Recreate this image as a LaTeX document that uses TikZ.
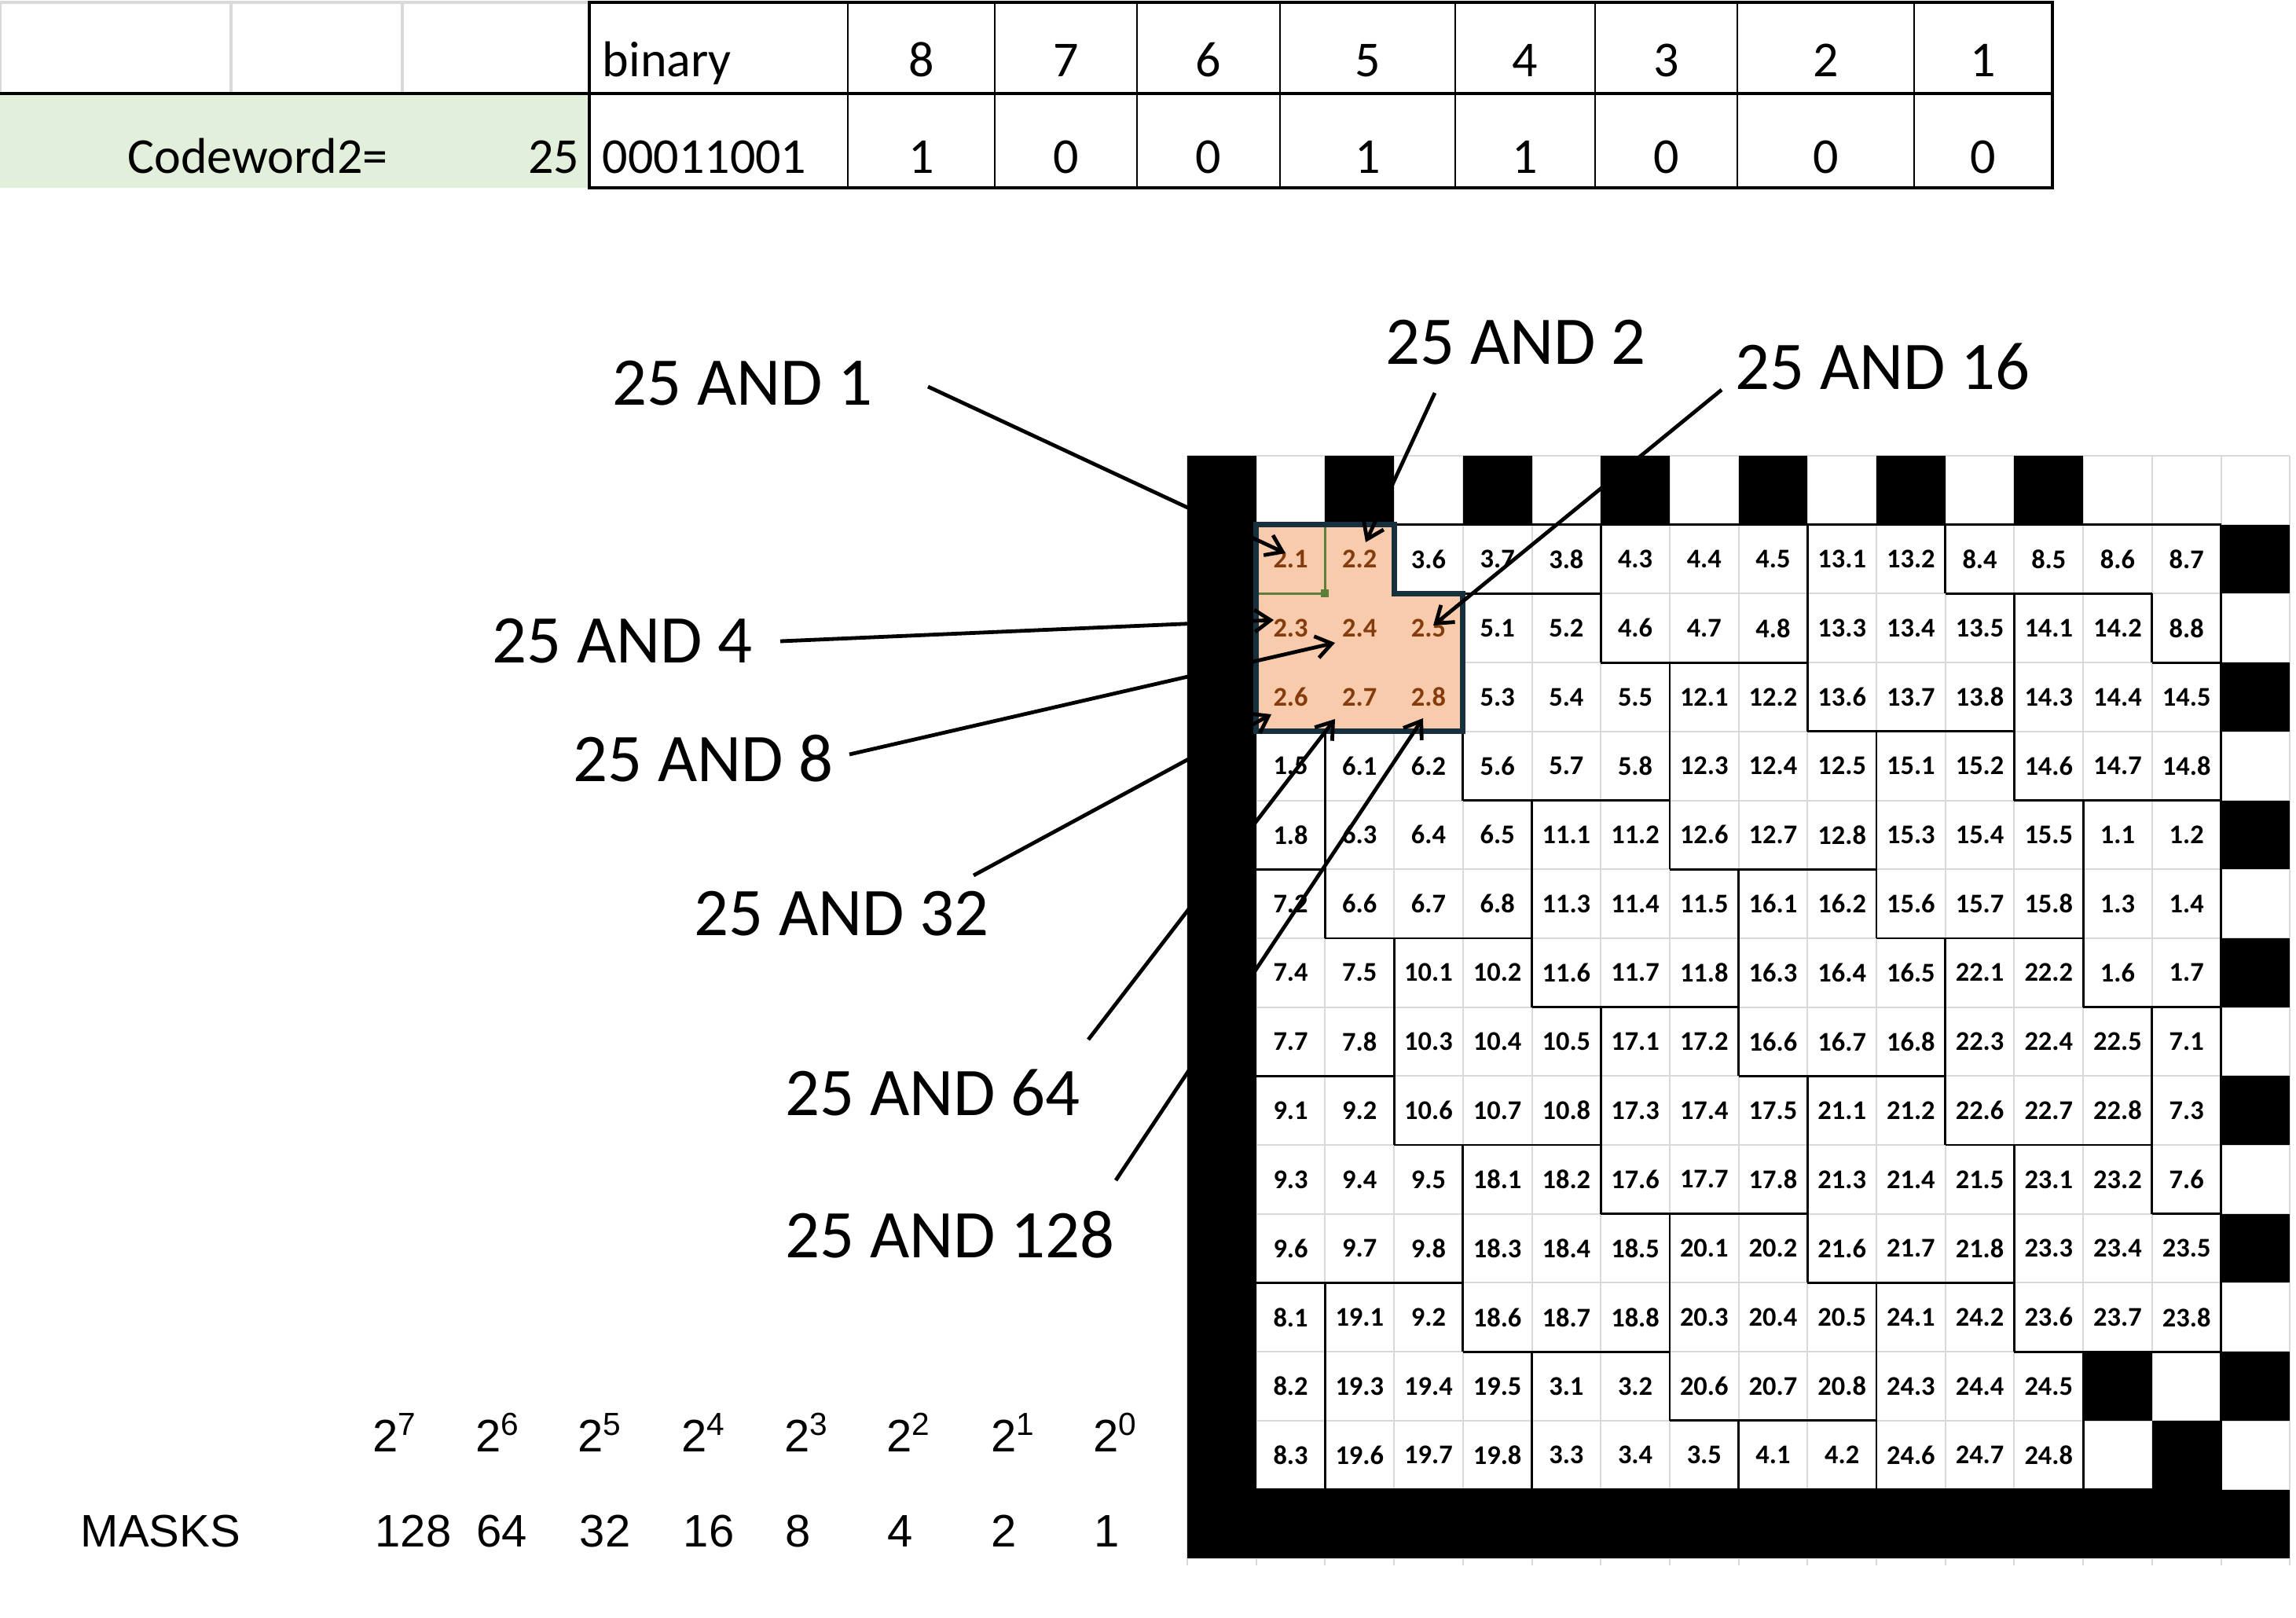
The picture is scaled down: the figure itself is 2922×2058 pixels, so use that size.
\documentclass[tikz,border=0pt]{standalone}
\usepackage{fontspec}
\setmainfont{Carlito}
\newfontfamily\arialf{Liberation Sans}
\usetikzlibrary{arrows.meta}
\definecolor{hl}{HTML}{F8CBAD}
\definecolor{hltxt}{HTML}{843C0C}
\definecolor{hlline}{HTML}{17303D}
\definecolor{grn}{HTML}{E2EFDA}
\definecolor{sel}{HTML}{5E7F3A}
\definecolor{gridg}{HTML}{D9D9D9}
\begin{document}
\begin{tikzpicture}[x=0.25pt,y=-0.25pt,
  lab/.style={anchor=west,inner sep=0,font=\fontsize{21.7}{24}\selectfont},
  arr/.style={line width=1.2pt,-{Straight Barb[length=5pt,width=7pt,line width=1.2pt]}},
  tb/.style={inner sep=0,font=\fontsize{16}{18}\selectfont},
  cell/.style={inner sep=0,font=\bfseries\fontsize{8.6}{10}\selectfont},
  msk/.style={inner sep=0,font=\arialf\fontsize{14.5}{16}\selectfont}]
\useasboundingbox (0,0) rectangle (2922,2058);
\fill[white] (0,0) rectangle (2922,2058);
\def\s{87.7}
\def\xo{1511}
\def\yo{580}
% ---------- top table ----------
\fill[grn] (0,119) rectangle (750,239);
\draw[gridg,line width=0.8pt] (0,3) -- (750,3) (294,3) -- (294,119) (512,3) -- (512,119) (0,3) -- (0,119);
\draw[line width=1pt] (0,119) -- (750,119);
\draw[line width=1pt] (750,3) rectangle (2612,239) (750,119) -- (2612,119);
\foreach \x in {1079,1266,1447,1629,1852,2030,2211,2436}{\draw[line width=0.6pt] (\x,3) -- (\x,239);}
\node[tb,anchor=base west] (bin) at (766,97) {binary};
\node[tb,anchor=base west] (bits) at (766,220) {00011001};
\node[tb,anchor=base] (cw) at (328,220) {Codeword2=};
\node[tb,anchor=base east] (n25) at (738,220) {25};
\foreach \a/\b/\h/\v [count=\i] in {1079/1266/8/1,1266/1447/7/0,1447/1629/6/0,1629/1852/5/1,1852/2030/4/1,2030/2211/3/0,2211/2436/2/0,2436/2612/1/0}{
  \node[tb,anchor=base] (h\i) at ({(\a+\b)/2},97) {\h};
  \node[tb,anchor=base] (v\i) at ({(\a+\b)/2},220) {\v};
}
% ---------- grid ----------
\foreach \c in {0,...,16}{\draw[gridg,line width=0.5pt] ({\xo+\c*\s},\yo) -- ({\xo+\c*\s},1992);}
\foreach \r in {0,...,16}{\draw[gridg,line width=0.5pt] (\xo,{\yo+\r*\s}) -- ({\xo+16*\s},{\yo+\r*\s});}
% highlight fill
\fill[hl] ({\xo+\s},{\yo+\s}) -- ({\xo+3*\s},{\yo+\s}) -- ({\xo+3*\s},{\yo+2*\s}) -- ({\xo+4*\s},{\yo+2*\s}) -- ({\xo+4*\s},{\yo+4*\s}) -- ({\xo+\s},{\yo+4*\s}) -- cycle;
% black border
\fill[black] (\xo,\yo) rectangle ({\xo+\s},{\yo+16*\s});
\fill[black] (\xo,{\yo+15*\s}) rectangle ({\xo+16*\s},{\yo+16*\s});
\foreach \c in {2,4,...,12}{\fill[black] ({\xo+\c*\s},\yo) rectangle ({\xo+(\c+1)*\s},{\yo+\s});}
\foreach \r in {1,3,...,13}{\fill[black] ({\xo+15*\s},{\yo+\r*\s}) rectangle ({\xo+16*\s},{\yo+(\r+1)*\s});}
\fill[black] ({\xo+13*\s},{\yo+13*\s}) rectangle ({\xo+14*\s},{\yo+14*\s});
\fill[black] ({\xo+14*\s},{\yo+14*\s}) rectangle ({\xo+15*\s},{\yo+15*\s});
% group boundaries
\def\G{{2,2,3,3,3,4,4,4,13,13,8,8,8,8,
2,2,2,5,5,4,4,4,13,13,13,14,14,8,
2,2,2,5,5,5,12,12,13,13,13,14,14,14,
1,6,6,5,5,5,12,12,12,15,15,14,14,14,
1,6,6,6,11,11,12,12,12,15,15,15,1,1,
7,6,6,6,11,11,11,16,16,15,15,15,1,1,
7,7,10,10,11,11,11,16,16,16,22,22,1,1,
7,7,10,10,10,17,17,16,16,16,22,22,22,7,
9,9,10,10,10,17,17,17,21,21,22,22,22,7,
9,9,9,18,18,17,17,17,21,21,21,23,23,7,
9,9,9,18,18,18,20,20,21,21,21,23,23,23,
8,19,19,18,18,18,20,20,20,24,24,23,23,23,
8,19,19,19,3,3,20,20,20,24,24,24,0,0,
8,19,19,19,3,3,3,4,4,24,24,24,0,0}}
\foreach \r in {1,...,14}{\foreach \c in {1,...,14}{
  \pgfmathtruncatemacro\g{\G[(\r-1)*14+\c-1]}
  \ifnum\c<14 \pgfmathtruncatemacro\gr{\G[(\r-1)*14+\c]}\else\def\gr{-1}\fi
  \ifnum\r<14 \pgfmathtruncatemacro\gb{\G[\r*14+\c-1]}\else\def\gb{-1}\fi
  \ifnum\g=\gr\else\draw[line width=0.7pt] ({\xo+(\c+1)*\s},{\yo+\r*\s}) -- ({\xo+(\c+1)*\s},{\yo+(\r+1)*\s});\fi
  \ifnum\g=\gb\else\draw[line width=0.7pt] ({\xo+\c*\s},{\yo+(\r+1)*\s}) -- ({\xo+(\c+1)*\s},{\yo+(\r+1)*\s});\fi
  \ifnum\r=1 \draw[line width=0.7pt] ({\xo+\c*\s},{\yo+\s}) -- ({\xo+(\c+1)*\s},{\yo+\s});\fi
}}
% selection marks
\draw[sel,line width=0.9pt] ({\xo+2*\s},{\yo+\s}) -- ({\xo+2*\s},{\yo+2*\s}) -- ({\xo+\s},{\yo+2*\s});
\fill[sel] ({\xo+2*\s-5},{\yo+2*\s-5}) rectangle ({\xo+2*\s+5},{\yo+2*\s+5});
% highlight outline
\draw[hlline,line width=1.8pt,line join=miter] ({\xo+\s},{\yo+\s}) -- ({\xo+3*\s},{\yo+\s}) -- ({\xo+3*\s},{\yo+2*\s}) -- ({\xo+4*\s},{\yo+2*\s}) -- ({\xo+4*\s},{\yo+4*\s}) -- ({\xo+\s},{\yo+4*\s}) -- cycle;
% cell text
\foreach \rl [count=\r] in {
{2.1,2.2,3.6,3.7,3.8,4.3,4.4,4.5,13.1,13.2,8.4,8.5,8.6,8.7},
{2.3,2.4,2.5,5.1,5.2,4.6,4.7,4.8,13.3,13.4,13.5,14.1,14.2,8.8},
{2.6,2.7,2.8,5.3,5.4,5.5,12.1,12.2,13.6,13.7,13.8,14.3,14.4,14.5},
{1.5,6.1,6.2,5.6,5.7,5.8,12.3,12.4,12.5,15.1,15.2,14.6,14.7,14.8},
{1.8,6.3,6.4,6.5,11.1,11.2,12.6,12.7,12.8,15.3,15.4,15.5,1.1,1.2},
{7.2,6.6,6.7,6.8,11.3,11.4,11.5,16.1,16.2,15.6,15.7,15.8,1.3,1.4},
{7.4,7.5,10.1,10.2,11.6,11.7,11.8,16.3,16.4,16.5,22.1,22.2,1.6,1.7},
{7.7,7.8,10.3,10.4,10.5,17.1,17.2,16.6,16.7,16.8,22.3,22.4,22.5,7.1},
{9.1,9.2,10.6,10.7,10.8,17.3,17.4,17.5,21.1,21.2,22.6,22.7,22.8,7.3},
{9.3,9.4,9.5,18.1,18.2,17.6,17.7,17.8,21.3,21.4,21.5,23.1,23.2,7.6},
{9.6,9.7,9.8,18.3,18.4,18.5,20.1,20.2,21.6,21.7,21.8,23.3,23.4,23.5},
{8.1,19.1,9.2,18.6,18.7,18.8,20.3,20.4,20.5,24.1,24.2,23.6,23.7,23.8},
{8.2,19.3,19.4,19.5,3.1,3.2,20.6,20.7,20.8,24.3,24.4,24.5},
{8.3,19.6,19.7,19.8,3.3,3.4,3.5,4.1,4.2,24.6,24.7,24.8}}{
  \foreach \t [count=\c] in \rl {
    \pgfmathtruncatemacro\g{\G[(\r-1)*14+\c-1]}
    \ifnum\r<4 \ifnum\g=2 \def\tc{hltxt}\else\def\tc{black}\fi\else\def\tc{black}\fi
    \node[cell,text=\tc] (t-\r-\c) at ({\xo+(\c+0.5)*\s},{\yo+(\r+0.5)*\s}) {\t};
  }
}
% ---------- labels and arrows ----------
\node[lab] (l1) at (779,488) {25 AND 1};
\node[lab] (l2) at (1763,436) {25 AND 2};
\node[lab] (l16) at (2208,466) {25 AND 16};
\node[lab] (l4) at (626,816) {25 AND 4};
\node[lab] (l8) at (729,965) {25 AND 8};
\node[lab] (l32) at (883,1163) {25 AND 32};
\node[lab] (l64) at (999,1390) {25 AND 64};
\node[lab] (l128) at (999,1571) {25 AND 128};
\coordinate (s1) at (1181,492);   \coordinate (e1) at (1636,704);
\coordinate (s2) at (1826,500);   \coordinate (e2) at (1738,690);
\coordinate (s16) at (2191,496);  \coordinate (e16) at (1824,796);
\coordinate (s4) at (993,816);    \coordinate (e4) at (1621,789);
\coordinate (s8) at (1081,960);   \coordinate (e8) at (1699,818);
\coordinate (s32) at (1239,1114); \coordinate (e32) at (1618,909);
\coordinate (s64) at (1385,1323); \coordinate (e64) at (1699,915);
\coordinate (s128) at (1420,1502);\coordinate (e128) at (1811,914);
\foreach \k in {1,2,16,4,8,32,64,128}{\draw[arr] (s\k) -- (e\k);}
% ---------- masks ----------
\node[msk,anchor=base west] (mk) at (102,1968) {MASKS};
\foreach \p/\m/\xp/\xm [count=\i] in {7/128/503/526,6/64/634/639,5/32/764/770,4/16/896/902,3/8/1027/1016,2/4/1157/1146,1/2/1290/1278,0/1/1420/1409}{
  \node[msk,anchor=base] (pw\i) at (\xp,1847) {2\textsuperscript{\p}};
  \node[msk,anchor=base] (mv\i) at (\xm,1968) {\m};
}
\end{tikzpicture}
\end{document}
